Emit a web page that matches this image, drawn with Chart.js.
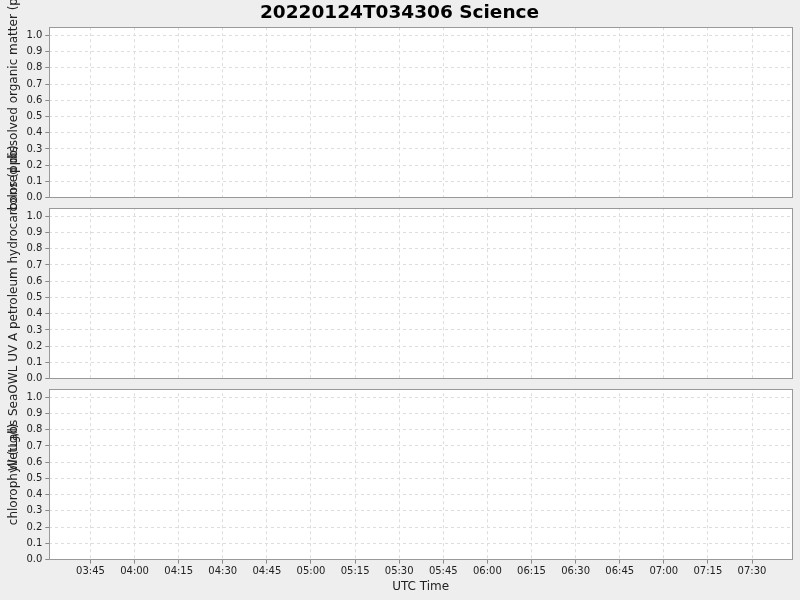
<!DOCTYPE html>
<html>
<head>
<meta charset="utf-8">
<script src="https://cdn.jsdelivr.net/npm/chart.js@4.4.0/dist/chart.umd.min.js"></script>
<style>
  body { margin: 0; background: #eeeeee; }
  #wrap { width: 800px; height: 600px; }
</style>
</head>
<body>
<div id="wrap"><canvas id="science" width="800" height="600"></canvas></div>
<script>
// data (the mission plot has no samples in any panel)
const cdomValues = [];
const petroleumValues = [];
const chlorophyllValues = [];

const xTickLabels = ["03:45", "04:00", "04:15", "04:30", "04:45", "05:00", "05:15",
  "05:30", "05:45", "06:00", "06:15", "06:30", "06:45", "07:00", "07:15", "07:30"];
const yTickValues = [0.0, 0.1, 0.2, 0.3, 0.4, 0.5, 0.6, 0.7, 0.8, 0.9, 1.0];

const timeStart = "03:31";
const timeEnd = "07:44";

const panelTitles = [
  "colored dissolved organic matter (ppb)",
  "WetLabs SeaOWL UV A petroleum hydrocarbons (ppb)",
  "chlorophyll (ug/l)"
];

function toMinutes(label) {
  const p = label.split(":");
  return parseInt(p[0]) * 60 + parseInt(p[1]);
}
function fmtTime(v) {
  const h = Math.floor(v / 60), m = Math.round(v % 60);
  return String(h).padStart(2, "0") + ":" + String(m).padStart(2, "0");
}

const font = "'DejaVu Sans', sans-serif";
const yMax = 1.05;
const gapMin = -0.065;   // room below 0.0 that becomes the gap between panels

// lead/trail spaces nudge the rotated label along the axis like the original
function yScale(title, min, weight, lead, trail) {
  return {
    type: "linear",
    position: "left",
    stack: "panels",
    stackWeight: weight,
    min: min,
    max: yMax,
    afterBuildTicks: axis => { axis.ticks = yTickValues.map(v => ({ value: v })); },
    ticks: {
      color: "#222",
      font: { family: font, size: 10 },
      padding: 3,
      autoSkip: false,
      callback: v => v.toFixed(1)
    },
    grid: { color: "#dddddd", tickColor: "#888", tickLength: 4 },
    border: { display: false, dash: [3, 3] },
    title: {
      display: true,
      text: " ".repeat(lead) + title + " ".repeat(trail),
      color: "#222",
      font: { family: font, size: 12 },
      padding: { top: 0, bottom: 2 }
    }
  };
}

// grey gaps and panel frames drawn with the library's scales
const panelPlugin = {
  id: "panels",
  beforeDraw(chart) {
    const c = chart.ctx;
    c.save();
    c.fillStyle = "#eeeeee";
    c.fillRect(0, 0, chart.width, chart.height);
    c.fillStyle = "#ffffff";
    ["yCdom", "yOil", "yChl"].forEach(id => {
      const s = chart.scales[id];
      const top = s.getPixelForValue(yMax), bot = s.getPixelForValue(0);
      c.fillRect(chart.chartArea.left, top, chart.chartArea.right - chart.chartArea.left, bot - top);
    });
    c.restore();
  },
  beforeDatasetsDraw(chart) {
    const c = chart.ctx;
    const area = chart.chartArea;
    c.save();
    const ids = ["yCdom", "yOil", "yChl"];
    ids.forEach((id, i) => {
      const s = chart.scales[id];
      const top = s.getPixelForValue(yMax), bot = s.getPixelForValue(0);
      if (i < ids.length - 1) {
        const nextTop = chart.scales[ids[i + 1]].getPixelForValue(yMax);
        c.fillStyle = "#eeeeee";
        c.fillRect(area.left, bot, area.right - area.left, nextTop - bot);
      }
      c.strokeStyle = "#999999";
      c.lineWidth = 1;
      c.strokeRect(Math.round(area.left) + 0.5, Math.round(top) + 0.5,
        Math.round(area.right - area.left), Math.round(bot - top));
    });
    c.restore();
  }
};

new Chart(document.getElementById("science"), {
  type: "line",
  data: {
    datasets: [
      { label: panelTitles[0], data: cdomValues, yAxisID: "yCdom", borderColor: "#1f77b4" },
      { label: panelTitles[1], data: petroleumValues, yAxisID: "yOil", borderColor: "#1f77b4" },
      { label: panelTitles[2], data: chlorophyllValues, yAxisID: "yChl", borderColor: "#1f77b4" }
    ]
  },
  options: {
    responsive: false,
    animation: false,
    layout: { padding: { left: 7, right: 8, top: 0, bottom: 6 } },
    plugins: {
      legend: { display: false },
      tooltip: { enabled: false },
      title: {
        display: true,
        text: "20220124T034306 Science",
        color: "#000",
        font: { family: font, size: 18.5, weight: "bold" },
        padding: { top: 2, bottom: 3 }
      }
    },
    scales: {
      x: {
        type: "linear",
        min: toMinutes(timeStart),
        max: toMinutes(timeEnd) - 0.4,
        afterBuildTicks: axis => { axis.ticks = xTickLabels.map(l => ({ value: toMinutes(l) })); },
        ticks: { color: "#222", font: { family: font, size: 10 }, padding: 2, callback: v => fmtTime(v), maxRotation: 0, autoSkip: false },
        grid: { color: "#dddddd", tickColor: "#888", tickLength: 4 },
        border: { display: false, dash: [3, 3] },
        title: { display: true, text: "UTC Time", color: "#222", font: { family: font, size: 12 }, padding: { top: 0, bottom: 0 } }
      },
      yChl: yScale(panelTitles[2], 0, 1.05, 0, 0),
      yOil: yScale(panelTitles[1], gapMin, yMax - gapMin, 0, 5),
      yCdom: yScale(panelTitles[0], gapMin, yMax - gapMin, 12, 0)
    }
  },
  plugins: [panelPlugin]
});
</script>
</body>
</html>
